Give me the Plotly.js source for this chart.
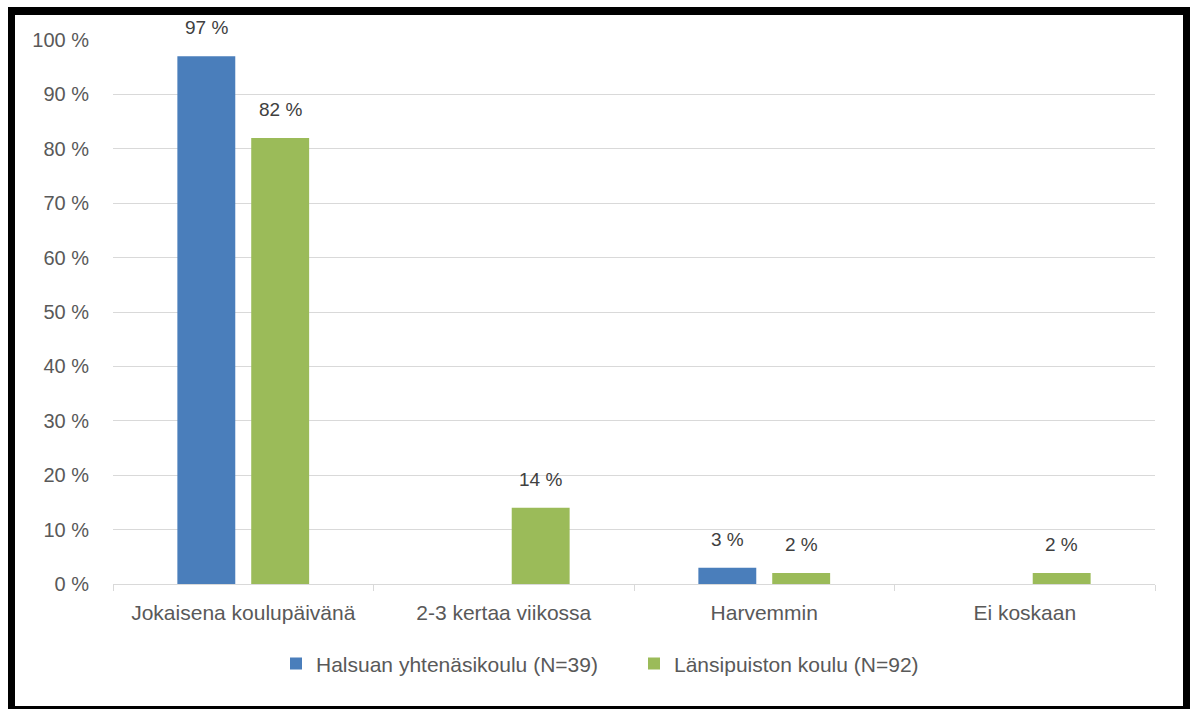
<!DOCTYPE html>
<html>
<head>
<meta charset="utf-8">
<script src="https://cdn.plot.ly/plotly-3.0.1.min.js"></script>
<style>
  html, body { margin: 0; padding: 0; background: #ffffff; }
  #frame {
    position: absolute; left: 8px; top: 7px;
    width: 1168px; height: 691px;
    border-left: 7px solid #000; border-top: 8px solid #000;
    border-right: 7px solid #000; border-bottom: 3px solid #000;
    background: #fff;
  }
  #chart { width: 1168px; height: 691px; }
</style>
</head>
<body>
<div id="frame"><div id="chart"></div></div>
<script>
const categories = ["Jokaisena koulupäivänä", "2-3 kertaa viikossa", "Harvemmin", "Ei koskaan"];
const seriesNames = ["Halsuan yhtenäsikoulu (N=39)", "Länsipuiston koulu (N=92)"];
const halsuaValues = [97, 0, 3, 0];
const lansipuistoValues = [82, 14, 2, 2];
const yTickValues = [0, 10, 20, 30, 40, 50, 60, 70, 80, 90, 100];
const yTickLabels = ["0 %", "10 %", "20 %", "30 %", "40 %", "50 %", "60 %", "70 %", "80 %", "90 %", "100 %"];

const fontFamily = "Liberation Sans, Arial, sans-serif";
const labelColor = "#404040";
const textColor = "#595959";

const traces = [
  {
    type: "bar", name: seriesNames[0], x: categories, y: halsuaValues,
    marker: { color: "#4a7ebb" }, hoverinfo: "none"
  },
  {
    type: "bar", name: seriesNames[1], x: categories, y: lansipuistoValues,
    marker: { color: "#9bbb59" }, hoverinfo: "none"
  }
];

// data labels placed through the axes (category + value), offset to each bar of the group
const seriesValues = [halsuaValues, lansipuistoValues];
const groupShift = [-37, 37];
const annotations = [];
seriesValues.forEach((vals, s) => {
  vals.forEach((v, i) => {
    if (v > 0) {
      annotations.push({
        x: categories[i], y: v, xref: "x", yref: "y",
        text: v + " %", showarrow: false,
        xanchor: "center", yanchor: "bottom",
        xshift: groupShift[s], yshift: 16,
        font: { family: fontFamily, size: 19, color: labelColor }
      });
    }
  });
});

const layout = {
  width: 1168, height: 691,
  margin: { l: 98, r: 28, t: 25, b: 122 },
  paper_bgcolor: "#ffffff", plot_bgcolor: "#ffffff",
  font: { family: fontFamily, size: 20, color: textColor },
  barmode: "group", bargap: 0.433, bargroupgap: 0.216,
  xaxis: {
    type: "category",
    showgrid: false, showline: true, linecolor: "#d9d9d9", linewidth: 1,
    ticks: "outside", tickson: "boundaries", ticklen: 6, tickcolor: "#d9d9d9",
    ticklabelstandoff: 10,
    tickfont: { family: fontFamily, size: 21, color: textColor },
    fixedrange: true
  },
  yaxis: {
    range: [0, 100], tickvals: yTickValues, ticktext: yTickLabels,
    showgrid: true, gridcolor: "#d9d9d9", gridwidth: 1,
    zeroline: false, showline: false, ticks: "",
    ticklabelstandoff: 23,
    tickfont: { family: fontFamily, size: 20, color: textColor },
    fixedrange: true
  },
  annotations: annotations,
  showlegend: true,
  legend: {
    orientation: "h", x: 0.5, xanchor: "center", y: -0.147, yanchor: "middle",
    font: { family: fontFamily, size: 21, color: textColor },
    itemwidth: 30, traceorder: "normal", entrywidth: 313
  }
};

Plotly.newPlot("chart", traces, layout, { displayModeBar: false, staticPlot: true });
</script>
</body>
</html>
